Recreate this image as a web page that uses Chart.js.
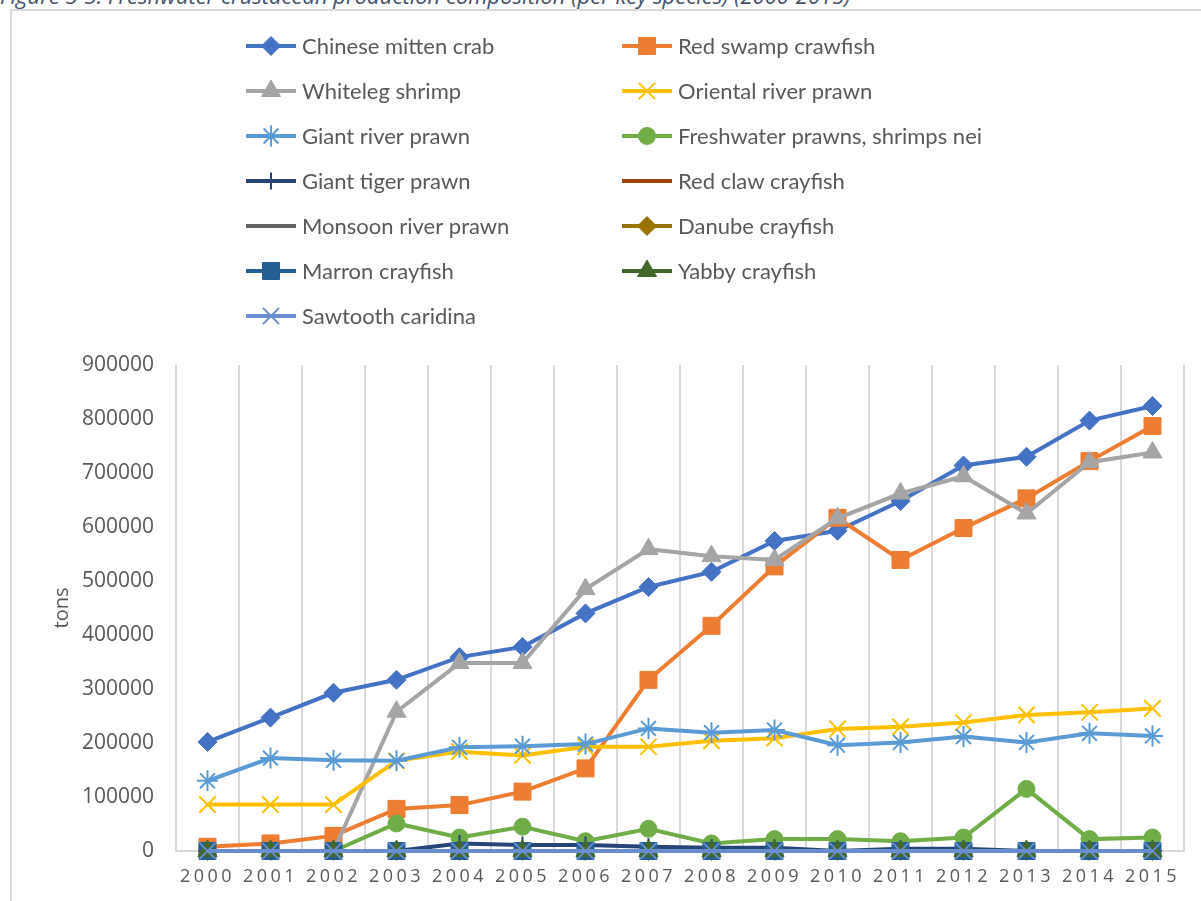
<!DOCTYPE html>
<html>
<head>
<meta charset="utf-8">
<script src="https://cdn.jsdelivr.net/npm/chart.js@4.4.1/dist/chart.umd.min.js"></script>
<style>
  html, body { margin: 0; padding: 0; background: #fff; overflow: hidden; }
  body { width: 1201px; height: 901px; position: relative; }
  .caption {
    position: absolute; left: 0; top: -16px;
    font: italic 22px "Open Sans", sans-serif; line-height: 22px;
    color: #44546a; white-space: nowrap;
  }
  .frame {
    position: absolute; left: 10px; top: 9px; width: 1300px; height: 1000px;
    border: 2px solid #d9d9d9;
  }
  #myChart { position: absolute; left: 0; top: 0; }
</style>
</head>
<body>
<div class="caption">Figure 5-3: Freshwater crustacean production composition (per key species) (2000-2015)</div>
<div class="frame"></div>
<canvas id="myChart" width="1201" height="901"></canvas>
<script>
const years = ["2000", "2001", "2002", "2003", "2004", "2005", "2006", "2007",
  "2008", "2009", "2010", "2011", "2012", "2013", "2014", "2015"];

const yTicks = [0, 100000, 200000, 300000, 400000, 500000, 600000, 700000, 800000, 900000];

// tons per year
const chineseMittenCrab = [202000, 247000, 293000, 317000, 359000, 378000, 440000, 489000,
  517000, 574000, 593000, 648000, 714000, 730000, 797000, 824000];
const redSwampCrawfish = [8000, 14000, 28000, 78000, 85000, 110000, 153000, 317000,
  417000, 527000, 617000, 539000, 598000, 653000, 722000, 787000];
const whitelegShrimp = [0, 0, 0, 258000, 348000, 348000, 485000, 559000,
  546000, 539000, 616000, 662000, 694000, 625000, 720000, 738000];
const orientalRiverPrawn = [86000, 86000, 86000, 167000, 184000, 177000, 193000, 193000,
  204000, 209000, 226000, 230000, 238000, 252000, 257000, 264000];
const giantRiverPrawn = [130000, 172000, 168000, 167000, 192000, 194000, 198000, 227000,
  219000, 224000, 196000, 201000, 212000, 201000, 218000, 213000];
const freshwaterPrawnsNei = [0, 0, 0, 51000, 25000, 45000, 18000, 41000,
  14000, 22000, 22000, 18000, 25000, 115000, 22000, 25000];
const giantTigerPrawn = [0, 0, 0, 0, 14000, 11000, 11000, 8000,
  6000, 6000, 0, 4000, 4000, 0, 0, 0];
const redClawCrayfish = [0, 0, 0, 0, 0, 0, 0, 0, 0, 0, 0, 0, 0, 0, 0, 0];
const monsoonRiverPrawn = [0, 0, 0, 0, 0, 0, 0, 0, 0, 0, 0, 0, 0, 0, 0, 0];
const danubeCrayfish = [0, 0, 0, 0, 0, 0, 0, 0, 0, 0, 0, 0, 0, 0, 0, 0];
const marronCrayfish = [0, 0, 0, 0, 0, 0, 0, 0, 0, 0, 0, 0, 0, 0, 0, 0];
const yabbyCrayfish = [0, 0, 0, 0, 0, 0, 0, 0, 0, 0, 0, 0, 0, 0, 0, 0];
const sawtoothCaridina = [0, 0, 0, 0, 0, 0, 0, 0, 0, 0, 0, 0, 0, 0, 0, 0];

// series look: label, data, colour, marker, marker radius
const series = [
  ["Chinese mitten crab", chineseMittenCrab, "#4472c4", "rectRot", 9.5],
  ["Red swamp crawfish", redSwampCrawfish, "#ed7d31", "rect", 12],
  ["Whiteleg shrimp", whitelegShrimp, "#a5a5a5", "triangle", 11],
  ["Oriental river prawn", orientalRiverPrawn, "#ffc000", "crossRot", 11.5],
  ["Giant river prawn", giantRiverPrawn, "#5b9bd5", "star", 10.5],
  ["Freshwater prawns, shrimps nei", freshwaterPrawnsNei, "#70ad47", "circle", 8.5],
  ["Giant tiger prawn", giantTigerPrawn, "#264478", "cross", 8.5],
  ["Red claw crayfish", redClawCrayfish, "#9e480e", "circle", 0],
  ["Monsoon river prawn", monsoonRiverPrawn, "#636363", "circle", 0],
  ["Danube crayfish", danubeCrayfish, "#997300", "rectRot", 9.5],
  ["Marron crayfish", marronCrayfish, "#255e91", "rect", 12],
  ["Yabby crayfish", yabbyCrayfish, "#43682b", "triangle", 11],
  ["Sawtooth caridina", sawtoothCaridina, "#698ed0", "crossRot", 11.5],
];

const lineStyles = ["cross", "crossRot", "star"];

const datasets = series.map((s, i) => ({
  label: s[0],
  data: s[1],
  borderColor: s[2],
  backgroundColor: s[2],
  borderWidth: 4,
  pointStyle: s[3],
  pointRadius: s[4],
  pointHoverRadius: s[4],
  pointBackgroundColor: s[2],
  pointBorderColor: s[2],
  pointBorderWidth: lineStyles.includes(s[3]) ? 2 : 1,
  tension: 0,
  fill: false,
  clip: false,
  order: series.length - i, // later series sit on top, like excel
}));

// two column legend drawn on the canvas
const legendColX = [246, 622];
const legendTop = 46;
const legendRowGap = 45;

const gridLegend = {
  id: "gridLegend",
  afterDraw(chart) {
    const ctx = chart.ctx;
    chart.data.datasets.forEach((ds, i) => {
      const x0 = legendColX[i % 2];
      const y = legendTop + Math.floor(i / 2) * legendRowGap;
      ctx.save();
      ctx.strokeStyle = ds.borderColor;
      ctx.lineWidth = ds.borderWidth;
      ctx.beginPath();
      ctx.moveTo(x0, y);
      ctx.lineTo(x0 + 50, y);
      ctx.stroke();
      if (ds.pointRadius > 0) {
        ctx.fillStyle = ds.pointBackgroundColor;
        ctx.strokeStyle = ds.pointBorderColor;
        ctx.lineWidth = ds.pointBorderWidth;
        Chart.helpers.drawPoint(ctx, {
          pointStyle: ds.pointStyle,
          radius: ds.pointRadius,
          borderWidth: ds.pointBorderWidth,
          rotation: 0,
        }, x0 + 25, y);
      }
      ctx.fillStyle = "#595959";
      ctx.font = '22px Lato, "Open Sans", sans-serif';
      ctx.textBaseline = "middle";
      ctx.textAlign = "left";
      ctx.fillText(ds.label, x0 + 56, y + 1);
      ctx.restore();
    });
  },
};

const ctx = document.getElementById("myChart");

const mychart = new Chart(ctx, {
  type: "line",
  data: { labels: years, datasets: datasets },
  plugins: [gridLegend],
  options: {
    responsive: false,
    animation: false,
    devicePixelRatio: 1,
    layout: { padding: { top: 365, left: 16, right: 17, bottom: 10 } },
    plugins: {
      legend: { display: false },
      tooltip: { enabled: false },
      title: { display: false },
    },
    scales: {
      x: {
        offset: true,
        grid: { offset: true, color: "#d9d9d9", lineWidth: 2, drawTicks: false },
        border: { display: true, color: "#d9d9d9", width: 2 },
        ticks: {
          color: "#595959",
          font: { family: "'Open Sans', sans-serif", size: 18 },
          padding: 15,
          autoSkip: false,
          maxRotation: 0,
        },
        afterFit(scale) {
          scale.height = 40;
          if (!scale._spaced) {
            // excel spreads the year digits a little
            const orig = scale.drawLabels;
            scale.drawLabels = function (area) {
              const c = this.ctx;
              const prev = c.letterSpacing;
              c.letterSpacing = "3.5px";
              orig.call(this, area);
              c.letterSpacing = prev;
            };
            scale._spaced = true;
          }
        },
      },
      y: {
        min: 0,
        max: 900000,
        grid: { display: false, drawTicks: false },
        border: { display: false },
        afterBuildTicks(scale) {
          scale.ticks = yTicks.map((v) => ({ value: v }));
        },
        ticks: {
          color: "#595959",
          font: { family: "'Open Sans', sans-serif", size: 21 },
          padding: 22,
          callback: (v) => String(v),
        },
        title: {
          display: true,
          text: "tons",
          color: "#595959",
          font: { family: "'Open Sans', sans-serif", size: 20 },
          padding: { top: 34, bottom: 0 },
        },
        afterFit(scale) {
          scale.width = 160;
        },
      },
    },
  },
});
</script>
</body>
</html>
